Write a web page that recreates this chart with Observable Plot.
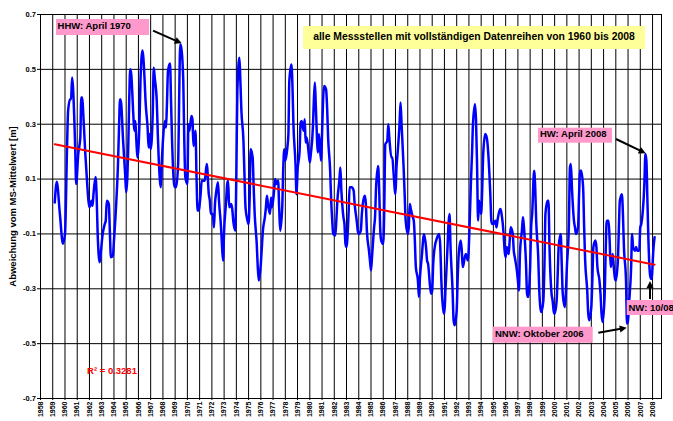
<!DOCTYPE html>
<html><head><meta charset="utf-8">
<script src="https://cdn.jsdelivr.net/npm/d3@7"></script>
<script src="https://cdn.jsdelivr.net/npm/@observablehq/plot@0.6"></script>
<style>body{margin:0;background:#fff} svg{display:block}</style>
</head><body><div id="chart"></div>
<script>
// ---------------- data ----------------
const yearLabels = [1958,1959,1960,1961,1962,1963,1964,1965,1966,1967,1968,1969,1970,1971,1972,1973,1974,1975,1976,1977,1978,1979,1980,1981,1982,1983,1984,1985,1986,1987,1988,1989,1990,1991,1992,1993,1994,1995,1996,1997,1998,1999,2000,2001,2002,2003,2004,2005,2006,2007,2008];
const yTicks = [0.7,0.5,0.3,0.1,-0.1,-0.3,-0.5,-0.7];
// months since January 1960
const months = [0,2,5,8,10,12,13,15,16,17,19,20,21,23,25,26,27,28,30,32,33,34,36,37,38,40,41,42,44,45,47,49,50,51,53,54,55,57,58,60,62,63,64,65,67,69,70,72,73,74,75,77,78,79,80,81,83,84,85,86,88,89,91,92,93,94,96,97,98,100,101,102,104,105,106,108,109,110,111,113,114,115,117,118,119,121,122,123,124,126,127,128,130,131,132,134,135,136,138,139,140,141,143,144,147,149,151,152,153,155,156,157,158,160,161,163,164,165,166,168,169,170,171,173,174,175,177,178,179,181,182,183,185,186,187,189,190,191,192,194,195,196,198,199,200,202,203,204,206,207,208,209,211,212,213,215,216,217,219,220,221,223,224,225,226,228,229,230,232,233,234,236,237,238,240,241,242,244,245,246,247,249,250,251,253,254,255,256,258,259,261,262,263,264,266,267,268,270,271,272,273,275,276,277,279,280,281,283,284,285,286,288,289,291,293,294,296,297,298,300,301,302,304,305,306,308,309,310,311,313,314,315,317,318,319,320,322,323,324,326,327,328,330,331,332,334,335,336,338,339,340,342,343,344,346,347,348,349,351,352,353,354,356,357,358,360,361,362,364,365,366,368,369,370,371,373,374,375,377,378,379,381,382,383,385,386,387,388,390,391,392,394,395,396,398,399,400,402,403,404,405,407,408,409,410,412,413,414,415,416,418,419,420,422,423,424,427,428,429,430,432,433,434,436,437,438,440,441,442,443,445,446,447,449,450,451,453,454,455,456,458,459,460,462,463,464,466,467,468,470,471,472,474,475,476,477,479,480,481,483,484,485,487,488,489,490,492,493,494,496,497,498,500,501,502,504,505,506,507,509,510,511,513,514,515,516,518,519,520,522,523,524,526,527,528,530,531,532,534,535,536,537,539,540,541,543,544,545,547,548,549,550,552,553,554,556,557,558,560,561,562,563,565,566,567,569,570,571,573,574,575,578,579,580,581,582,583,584,585,587,588];
// deviation from the mean [m]
const values = [0.015,0.09,-0.027,-0.136,-0.1,0.215,0.348,0.391,0.391,0.47,0.336,0.215,0.082,0.191,0.252,0.397,0.397,0.336,0.191,0.07,0.021,-0.003,0.021,0.003,0.045,0.108,0.045,-0.088,-0.203,-0.173,-0.1,-0.064,-0.052,0.021,0.009,-0.088,-0.185,-0.179,-0.124,-0.003,0.155,0.288,0.391,0.379,0.239,0.118,0.052,0.215,0.397,0.5,0.482,0.336,0.276,0.312,0.239,0.179,0.3,0.458,0.542,0.569,0.47,0.385,0.288,0.215,0.264,0.209,0.336,0.506,0.47,0.385,0.264,0.167,0.07,0.167,0.239,0.312,0.288,0.373,0.494,0.521,0.385,0.239,0.082,0.07,0.07,0.167,0.397,0.591,0.58,0.458,0.239,0.106,0.082,0.3,0.276,0.33,0.318,0.221,0.276,0.106,-0.015,-0.015,0.045,0.094,0.094,0.155,0.045,0.021,-0.027,-0.027,-0.076,0.009,0.045,0.088,0.021,-0.076,-0.148,-0.197,-0.088,0.021,0.082,0.094,-0.003,0.009,-0.009,-0.052,-0.088,0.118,0.421,0.542,0.458,0.348,0.239,0.118,-0.003,-0.052,-0.064,0.021,0.209,0.179,0.07,-0.027,-0.136,-0.221,-0.27,-0.209,-0.148,-0.088,-0.039,-0.003,0.039,0.009,-0.027,0.033,-0.003,0.058,0.1,0.082,0.094,-0.003,-0.088,-0.003,0.142,0.209,0.167,0.215,0.264,0.458,0.518,0.445,0.3,0.155,0.045,0.13,0.203,0.306,0.312,0.276,0.318,0.233,0.252,0.191,0.161,0.191,0.288,0.385,0.452,0.361,0.197,0.264,0.167,0.264,0.385,0.439,0.427,0.361,0.252,0.13,0.021,-0.052,-0.1,-0.106,-0.052,0.021,0.094,0.142,0.058,-0.039,-0.064,-0.136,-0.148,-0.027,0.07,0.07,0.058,0.009,-0.052,-0.088,-0.1,-0.088,-0.027,0.009,0.039,0.009,-0.088,-0.161,-0.197,-0.233,-0.185,-0.076,-0.039,0.07,0.148,0.07,-0.076,-0.124,-0.136,-0.015,0.227,0.239,0.3,0.252,0.179,0.179,0.13,0.045,0.142,0.191,0.3,0.379,0.3,0.142,0.045,-0.052,-0.1,-0.076,0.009,-0.009,-0.039,-0.052,-0.124,-0.221,-0.27,-0.33,-0.258,-0.173,-0.124,-0.1,-0.148,-0.197,-0.209,-0.294,-0.318,-0.306,-0.209,-0.136,-0.124,-0.112,-0.1,-0.148,-0.27,-0.379,-0.391,-0.306,-0.148,-0.064,-0.027,-0.148,-0.306,-0.415,-0.433,-0.379,-0.258,-0.173,-0.124,-0.161,-0.221,-0.185,-0.173,-0.185,-0.197,-0.027,0.094,0.191,0.3,0.373,0.312,0.155,-0.052,0.021,-0.027,0.058,0.191,0.264,0.258,0.239,0.045,-0.052,-0.064,-0.064,-0.052,-0.076,-0.052,-0.015,-0.009,-0.027,-0.1,-0.161,-0.185,-0.148,-0.173,-0.124,-0.076,-0.1,-0.161,-0.185,-0.233,-0.27,-0.306,-0.173,-0.088,-0.039,-0.076,-0.209,-0.318,-0.33,-0.221,-0.076,-0.027,0.13,0.07,-0.052,-0.185,-0.306,-0.367,-0.385,-0.342,-0.221,-0.027,0.021,0.021,-0.148,-0.318,-0.342,-0.379,-0.391,-0.342,-0.245,-0.148,-0.1,-0.209,-0.318,-0.367,-0.318,-0.221,-0.064,0.142,0.155,0.07,-0.052,-0.076,-0.1,-0.076,0.045,0.13,0.13,0.07,-0.076,-0.197,-0.306,-0.391,-0.415,-0.367,-0.27,-0.148,-0.124,-0.148,-0.221,-0.27,-0.318,-0.391,-0.421,-0.33,-0.173,-0.052,-0.052,-0.124,-0.221,-0.173,-0.221,-0.258,-0.27,-0.197,-0.076,0.021,0.045,-0.027,-0.148,-0.27,-0.427,-0.415,-0.355,-0.221,-0.1,-0.148,-0.161,-0.148,-0.161,-0.161,-0.076,-0.064,0.082,0.191,0.167,0.021,-0.124,-0.221,-0.258,-0.264,-0.148,-0.112];
const trendMonths = [0, 588];
const trendValues = [0.227, -0.212];
const annotationLabels = ["HHW: April 1970", "HW: April 2008", "NW: 10/08", "NNW: Oktober 2006"];
const annotationMonths = [123, 579, 585, 561];
const subtitle = "alle Messstellen mit vollständigen Datenreihen von 1960 bis 2008";
const rSquaredLabel = "R² = 0.3281";
const yTitle = "Abweichung vom MS-Mittelwert [m]";

// ---------------- chart ----------------
const FONT = "'Liberation Sans', Arial, Helvetica, sans-serif";
const monthDate = m => new Date(Date.UTC(1960, m, 1));
const series = months.map((m, i) => ({date: monthDate(m), value: values[i]}));
const trend = trendMonths.map((m, i) => ({date: monthDate(m), value: trendValues[i]}));
const tickDates = yearLabels.map(y => new Date(Date.UTC(y, 10, 1)));

const plot = Plot.plot({
  width: 673, height: 421,
  marginLeft: 40, marginTop: 14, marginRight: 12, marginBottom: 23,
  style: {fontFamily: FONT, fontWeight: "bold", background: "#fff", color: "#000"},
  x: {type: "utc", domain: [new Date(Date.UTC(1958, 10, 1)), new Date(Date.UTC(2009, 6, 26))]},
  y: {domain: [-0.7, 0.7]},
  marks: [
    Plot.ruleX(tickDates, {stroke: "#000", strokeWidth: 1}),
    Plot.ruleY(yTicks, {stroke: "#000", strokeWidth: 1}),
    Plot.frame({stroke: "#000"}),
    Plot.axisX(tickDates, {tickFormat: d => String(d.getUTCFullYear()), tickRotate: -90, fontSize: 7, tickSize: 2, tickPadding: 1, label: null}),
    Plot.axisY(yTicks, {tickFormat: d => d.toFixed(1), fontSize: 7.5, tickSize: 3, tickPadding: 1.5, label: null}),
    Plot.line(series, {x: "date", y: "value", stroke: "#0000ff", strokeWidth: 2.5, curve: "monotone-x"}),
    Plot.line(trend, {x: "date", y: "value", stroke: "#ff0000", strokeWidth: 2})
  ]
});
document.getElementById("chart").append(plot);

// ---------------- annotations ----------------
const sx = plot.scale("x"), sy = plot.scale("y");
const svg = d3.select(plot);
const g = svg.append("g").attr("font-family", FONT).attr("font-weight", "bold").attr("text-anchor", "start");

g.append("text").attr("transform", "translate(15.7,286.7) rotate(-90)").attr("text-anchor", "start")
  .attr("font-size", 9.5).attr("fill", "#000").text(yTitle);

g.append("rect").attr("x", 303).attr("y", 26).attr("width", 342).attr("height", 23).attr("fill", "#ffff99");
g.append("text").attr("x", 474).attr("y", 40.3).attr("text-anchor", "middle")
  .attr("font-size", 10.4).attr("fill", "#000").text(subtitle);

g.append("text").attr("x", 112).attr("y", 374).attr("text-anchor", "middle")
  .attr("font-size", 9.5).attr("fill", "#ff0000").text(rSquaredLabel);

const annLayout = [
  {box: [-123.7, -24.9, 93, 16], text: [-122.2, -14.6], from: [-26.7, -13.2], to: [2, -0.6]},
  {box: [-106.9, -25.9, 74, 15], text: [-104.9, -16.3], from: [-28.9, -14.6], to: [0.8, -0.3]},
  {box: [-24.3, 21.6, 60, 15], text: [-22.5, 32.3], from: [-1, 20.6], to: [-1, 2.6]},
  {box: [-133.8, 3.6, 100, 16], text: [-131.5, 14.2], from: [-28.2, 9.6], to: [0.2, 4.6]}
];

function arrow(x1, y1, x2, y2) {
  const dx = x2 - x1, dy = y2 - y1, L = Math.hypot(dx, dy), ux = dx / L, uy = dy / L;
  const hl = 7, hw = 3.5;
  const bx = x2 - ux * hl, by = y2 - uy * hl;
  g.append("line").attr("x1", x1).attr("y1", y1).attr("x2", bx + ux).attr("y2", by + uy)
    .attr("stroke", "#000").attr("stroke-width", 2);
  g.append("polygon").attr("points", `${x2},${y2} ${bx - uy * hw},${by + ux * hw} ${bx + uy * hw},${by - ux * hw}`)
    .attr("fill", "#000");
}

annotationLabels.forEach((label, i) => {
  const idx = months.indexOf(annotationMonths[i]);
  const px = sx.apply(monthDate(annotationMonths[i]));
  const py = sy.apply(values[idx]);
  const L = annLayout[i];
  g.append("rect").attr("x", px + L.box[0]).attr("y", py + L.box[1])
    .attr("width", L.box[2]).attr("height", L.box[3]).attr("fill", "#ff99cc");
  g.append("text").attr("x", px + L.text[0]).attr("y", py + L.text[1]).attr("text-anchor", "start")
    .attr("font-size", 9.5).attr("fill", "#000").text(label);
  arrow(px + L.from[0], py + L.from[1], px + L.to[0], py + L.to[1]);
});
</script>
</body></html>
